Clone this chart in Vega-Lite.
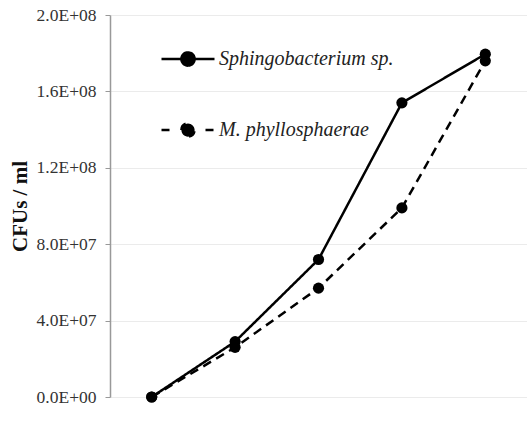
{
  "$schema": "https://vega.github.io/schema/vega-lite/v6.json",
  "width": 417,
  "height": 382,
  "autosize": {"type": "none"},
  "padding": {"left": 110, "top": 15, "right": 0, "bottom": 26},
  "background": "white",
  "config": {
    "view": {"stroke": null},
    "font": "Liberation Serif"
  },
  "data": {
    "values": [
      {"t": 1, "series": "Sphingobacterium sp.", "cfu": 0},
      {"t": 2, "series": "Sphingobacterium sp.", "cfu": 29000000},
      {"t": 3, "series": "Sphingobacterium sp.", "cfu": 72000000},
      {"t": 4, "series": "Sphingobacterium sp.", "cfu": 154000000},
      {"t": 5, "series": "Sphingobacterium sp.", "cfu": 179500000},
      {"t": 1, "series": "M. phyllosphaerae", "cfu": 0},
      {"t": 2, "series": "M. phyllosphaerae", "cfu": 26000000},
      {"t": 3, "series": "M. phyllosphaerae", "cfu": 57000000},
      {"t": 4, "series": "M. phyllosphaerae", "cfu": 99000000},
      {"t": 5, "series": "M. phyllosphaerae", "cfu": 176000000}
    ]
  },
  "encoding": {
    "x": {"field": "t", "type": "ordinal", "scale": {"type": "point", "padding": 0.5}, "axis": null},
    "y": {
      "field": "cfu",
      "type": "quantitative",
      "scale": {"domain": [0, 200000000], "nice": false},
      "axis": {
        "title": "CFUs / ml",
        "titleFont": "Liberation Serif",
        "titleFontSize": 21,
        "titleFontWeight": "bold",
        "titleColor": "#111",
        "titlePadding": 6,
        "values": [0, 40000000, 80000000, 120000000, 160000000, 200000000],
        "labelExpr": "replace(format(datum.value, '.1e'), 'e+', 'E+0')",
        "labelFont": "Liberation Serif",
        "labelFontSize": 17.5,
        "labelColor": "#333",
        "labelPadding": 9,
        "tickSize": 5,
        "tickColor": "#999",
        "domainColor": "#999",
        "domainWidth": 1.5,
        "gridColor": "#ebebeb",
        "gridWidth": 1
      }
    }
  },
  "resolve": {"scale": {"strokeDash": "independent"}, "legend": {"strokeDash": "independent"}},
  "layer": [
    {
      "mark": {"type": "line", "color": "black", "strokeWidth": 2.5},
      "encoding": {
        "strokeDash": {
          "field": "series",
          "type": "nominal",
          "scale": {"domain": ["Sphingobacterium sp.", "M. phyllosphaerae"], "range": [[1, 0], [9, 6]]},
          "legend": null
        }
      }
    },
    {
      "mark": {"type": "line", "color": "black", "strokeWidth": 2.5, "opacity": 0},
      "encoding": {
        "strokeDash": {
          "field": "series",
          "type": "nominal",
          "scale": {"domain": ["Sphingobacterium sp.", "M. phyllosphaerae"], "range": [[1, 0], [8, 14]]},
          "legend": {
            "title": null,
            "orient": "none",
            "legendX": 50,
            "legendY": 16,
            "padding": 0,
            "rowPadding": 31,
            "symbolType": "M-1,0H1M-0.25,0A0.25,0.25 0 1,1 0.25,0A0.25,0.25 0 1,1 -0.25,0Z",
            "symbolSize": 2809,
            "symbolStrokeWidth": 2.5,
            "symbolStrokeColor": "black",
            "symbolFillColor": "black",
            "symbolOpacity": 1,
            "labelFont": "Liberation Serif",
            "labelFontStyle": "italic",
            "labelFontSize": 20,
            "labelColor": "#222",
            "labelOffset": 3,
            "labelLimit": 300,
            "encode": {
              "symbols": {
                "update": {
                  "fill": {"value": "black"},
                  "stroke": {"value": "black"},
                  "opacity": {"value": 1}
                }
              }
            }
          }
        }
      }
    },
    {
      "mark": {"type": "point", "shape": "circle", "filled": true, "color": "black", "opacity": 1, "size": 125},
      "encoding": {"detail": {"field": "series", "type": "nominal"}}
    }
  ]
}
